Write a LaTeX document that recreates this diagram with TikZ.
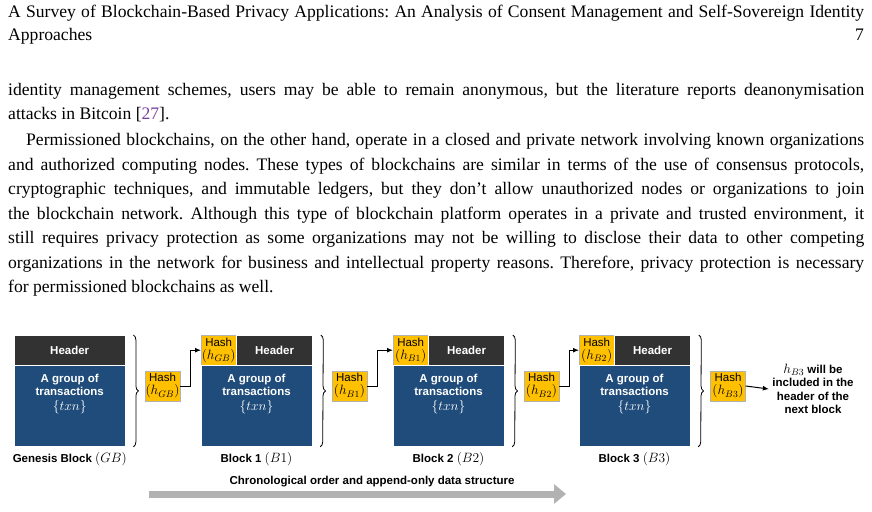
\RequirePackage{fix-cm}
\documentclass[tikz,border=0pt]{standalone}
\usepackage{fontspec}
\setmainfont{Liberation Serif}
\newfontfamily\diagfont{Liberation Sans}
\usetikzlibrary{arrows.meta, decorations.pathreplacing, positioning, calc}
\definecolor{hdrgray}{HTML}{323232}
\definecolor{blkblue}{HTML}{1F4C7A}
\definecolor{hashgold}{HTML}{FFC000}
\definecolor{citepurple}{HTML}{7B3F9E}
\newcommand{\fullline}[1]{\makebox[856pt][s]{#1}}
\newcommand{\mathlbl}[1]{{\fontsize{13.5}{14}\selectfont$#1$}}
\frenchspacing

\tikzset{
  body/.style={font=\fontsize{17.6}{24}\selectfont, anchor=base west, inner sep=0pt},
  hdr/.style={fill=hdrgray, draw=white, line width=0.4pt, anchor=north west, minimum height=30pt, inner sep=0pt},
  blk/.style={fill=blkblue, draw=white, line width=0.4pt, anchor=north, minimum height=81pt, minimum width=111pt, inner sep=0pt},
  hash/.style={fill=hashgold, draw=gray!60, line width=0.4pt, minimum width=35pt, minimum height=30pt, inner sep=0pt, align=center, font=\diagfont\fontsize{11.5}{13}\selectfont},
  wtxt/.style={text=white, font=\diagfont\bfseries\fontsize{11.5}{13.5}\selectfont, align=center},
  blkcap/.style={font=\diagfont\bfseries\fontsize{11.5}{13.5}\selectfont},
  brc/.style={decorate, decoration={brace, amplitude=5pt}, line width=0.8pt},
  link/.style={-{Latex[length=6pt,width=5pt]}, line width=1pt}
}

\begin{document}
\begin{tikzpicture}[x=1pt,y=-1pt]
  \useasboundingbox (0,0) rectangle (872,511);
  % page header
  \node[body] (title1) at (8,18) {\makebox[856pt][s]{A Survey of Blockchain-Based Privacy Applications: An Analysis of Consent Management and Self-Sovereign Identity}};
  \node[body] (title2) at (8,41) {Approaches};
  \node[body, anchor=base east] (pageno) at (864,41) {7};
  % text
  \node[body] (l1) at (8,95) {\fullline{identity management schemes, users may be able to remain anonymous, but the literature reports deanonymisation}};
  \node[body] (l2) at (8,119) {attacks in Bitcoin [\textcolor{citepurple}{27}].};
  \node[body] (l3) at (26,145) {\makebox[838pt][s]{Permissioned blockchains, on the other hand, operate in a closed and private network involving known organizations}};
  \node[body] (l4) at (8,170) {\fullline{and authorized computing nodes. These types of blockchains are similar in terms of the use of consensus protocols,}};
  \node[body] (l5) at (8,194) {\fullline{cryptographic techniques, and immutable ledgers, but they don’t allow unauthorized nodes or organizations to join}};
  \node[body] (l6) at (8,219) {\fullline{the blockchain network. Although this type of blockchain platform operates in a private and trusted environment, it}};
  \node[body] (l7) at (8,243) {\fullline{still requires privacy protection as some organizations may not be willing to disclose their data to other competing}};
  \node[body] (l8) at (8,268) {\fullline{organizations in the network for business and intellectual property reasons. Therefore, privacy protection is necessary}};
  \node[body] (l9) at (8,292) {for permissioned blockchains as well.};

  % genesis block
  \node[hdr, minimum width=111pt] (h0) at (14,335) {};
  \node[wtxt] at (h0.center) {Header};
  \node[blk] (b0) at (h0.south) {};
  \node[wtxt, below=5pt of b0.north] {A group of\\transactions\\[1pt]\normalfont\mathlbl{\{txn\}}};
  \node[blkcap, below=2pt of b0.south] (c0) {Genesis Block \normalfont\mathlbl{(GB)}};
  \draw[brc] ($(h0.north east)+(8,0)$) -- ($(b0.south east)+(8,0)$);
  \node[hash] (hgb) at (162.5,386) {Hash\\\mathlbl{(h_{GB})}};

  % block 1
  \node[hash, anchor=north west] (k1) at (201,335) {Hash\\\mathlbl{(h_{GB})}};
  \node[hdr, minimum width=76pt, anchor=north west] (h1) at (k1.north east) {};
  \node[wtxt] at (h1.center) {Header};
  \node[blk] (b1) at ($(k1.south west)+(55.5,0)$) {};
  \node[wtxt, below=5pt of b1.north] {A group of\\transactions\\[1pt]\normalfont\mathlbl{\{txn\}}};
  \node[blkcap, below=2pt of b1.south] (c1) {Block 1 \normalfont\mathlbl{(B1)}};
  \draw[brc] ($(h1.north east)+(8,0)$) -- ($(b1.south east)+(8,0)$);
  \node[hash] (hb1) at (349.5,386) {Hash\\\mathlbl{(h_{B1})}};
  \draw[link] (hgb.east) -- ++(10,0) |- (k1.west);

  % block 2
  \node[hash, anchor=north west] (k2) at (393,335) {Hash\\\mathlbl{(h_{B1})}};
  \node[hdr, minimum width=76pt, anchor=north west] (h2) at (k2.north east) {};
  \node[wtxt] at (h2.center) {Header};
  \node[blk] (b2) at ($(k2.south west)+(55.5,0)$) {};
  \node[wtxt, below=5pt of b2.north] {A group of\\transactions\\[1pt]\normalfont\mathlbl{\{txn\}}};
  \node[blkcap, below=2pt of b2.south] (c2) {Block 2 \normalfont\mathlbl{(B2)}};
  \draw[brc] ($(h2.north east)+(8,0)$) -- ($(b2.south east)+(8,0)$);
  \node[hash] (hb2) at (541.5,386) {Hash\\\mathlbl{(h_{B2})}};
  \draw[link] (hb1.east) -- ++(10,0) |- (k2.west);

  % block 3
  \node[hash, anchor=north west] (k3) at (579,335) {Hash\\\mathlbl{(h_{B2})}};
  \node[hdr, minimum width=76pt, anchor=north west] (h3) at (k3.north east) {};
  \node[wtxt] at (h3.center) {Header};
  \node[blk] (b3) at ($(k3.south west)+(55.5,0)$) {};
  \node[wtxt, below=5pt of b3.north] {A group of\\transactions\\[1pt]\normalfont\mathlbl{\{txn\}}};
  \node[blkcap, below=2pt of b3.south] (c3) {Block 3 \normalfont\mathlbl{(B3)}};
  \draw[brc] ($(h3.north east)+(8,0)$) -- ($(b3.south east)+(8,0)$);
  \node[hash] (hb3) at (728,386) {Hash\\\mathlbl{(h_{B3})}};
  \draw[link] (hb2.east) -- ++(10,0) |- (k3.west);

  % next block note
  \node[blkcap, align=center] (next) at (813,389) {\mathlbl{h_{B3}} will be\\included in the\\header of the\\next block};
  \draw[link] (hb3.east) -- (next.west);

  % time arrow
  \node[blkcap] (chrono) at (372,482) {Chronological order and append-only data structure};
  \coordinate (tstart) at (149,494);
  \coordinate (tend) at (566,494);
  \draw[gray!60, line width=7pt, -{Triangle[length=12pt,width=19pt]}] (tstart) -- (tend);
\end{tikzpicture}
\end{document}
